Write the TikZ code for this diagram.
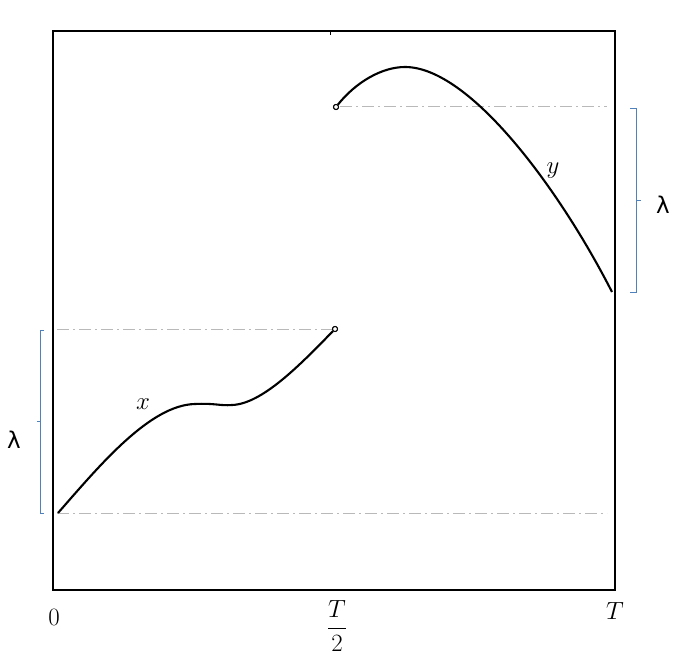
\documentclass[tikz,border=0pt]{standalone}
\usepackage{fontspec}
\newfontfamily\lamfont{DejaVu Sans}
\begin{document}
\begin{tikzpicture}[x=1pt,y=-1pt,
  frame/.style={line width=1.4pt,black},
  curve/.style={line width=2.1pt,black},
  guide/.style={line width=1pt,gray!55,dash pattern=on 12pt off 4pt on 2pt off 4pt},
  bracket/.style={line width=0.8pt,color={rgb,255:red,79;green,129;blue,189}},
  hole/.style={circle,draw,line width=1pt,fill=white,inner sep=0pt,minimum size=5pt},
  lab/.style={font=\fontsize{23}{28}\selectfont},
  lam/.style={font=\lamfont\fontsize{23}{28}\selectfont}]
\useasboundingbox (0,0) rectangle (680,658);
% frame
\draw[frame] (53,31) rectangle (615,590);
\draw[line width=0.6pt] (330,31) -- (330,35);
% guides
\draw[guide] (57,329) -- (333,329);
\draw[guide] (57,513) -- (607,513);
\draw[guide] (340,107) -- (607,107);
% curves
\coordinate (xs) at (58,513);
\node[hole] (xe) at (335,329) {};
\node[hole] (ys) at (336,107) {};
\coordinate (ye) at (612,292);
\draw[curve] (xs) .. controls (100,465) and (150,405) .. (195,404)
  .. controls (215,403) and (220,406) .. (232,405)
  .. controls (262,404) and (300,365) .. (xe);
\draw[curve] (ys) .. controls (356,82) and (382,67) .. (405,67)
  .. controls (470,67) and (560,190) .. (ye);
\node[hole] at (335,329) {};
\node[hole] at (336,107) {};
% labels
\node[lab] (lx) at (143,404) {$x$};
\node[lab] (ly) at (553,171) {$y$};
% brackets
\draw[bracket] (44,330) -- (40,330) -- (40,513) -- (44,513);
\draw[bracket] (40,421) -- (37,421);
\draw[bracket] (630,108) -- (636,108) -- (636,292) -- (630,292);
\draw[bracket] (636,200) -- (641,200);
\node[lam] (l1) at (14,440) {λ};
\node[lam] (l2) at (663,205) {λ};
% axis labels
\node[lab] (t0) at (54,617) {$0$};
\node[lab] (th) at (337,626) {$\displaystyle\frac{T}{2}$};
\node[lab] (tt) at (615,611) {$T$};
\end{tikzpicture}
\end{document}
